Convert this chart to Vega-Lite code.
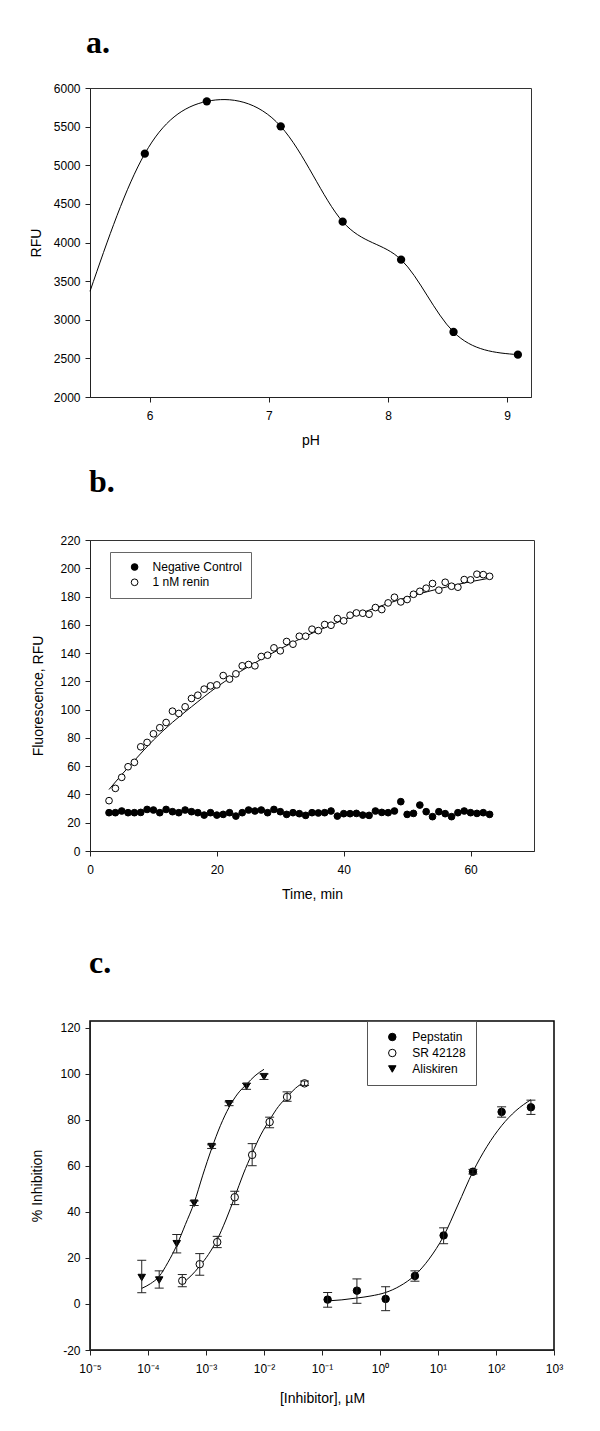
{
  "$schema": "https://vega.github.io/schema/vega-lite/v6.json",
  "background": "white",
  "padding": {"left": 28, "top": 26, "right": 10, "bottom": 10},
  "spacing": 17,
  "resolve": {"scale": {"fill": "independent", "shape": "independent", "stroke": "independent"}, "legend": {"fill": "independent", "shape": "independent", "stroke": "independent"}},
  "config": {
    "font": "Liberation Sans",
    "view": {"stroke": "#333", "strokeWidth": 1},
    "axis": {"grid": false, "domainColor": "#222", "tickColor": "#222", "labelColor": "#000", "titleColor": "#000", "labelFont": "Liberation Sans", "titleFont": "Liberation Sans", "labelFontSize": 12, "titleFontSize": 14, "titleFontWeight": "normal", "tickSize": 5, "labelFlush": false, "labelOverlap": false},
    "axisX": {"labelPadding": 8, "titlePadding": 12},
    "axisY": {"labelPadding": 5},
    "title": {"font": "Liberation Serif", "fontSize": 32, "fontWeight": "bold", "anchor": "start", "frame": "group", "baseline": "alphabetic", "color": "#000"},
    "legend": {"labelFont": "Liberation Sans", "labelFontSize": 12, "labelColor": "#000", "symbolStrokeColor": "#000", "symbolStrokeWidth": 1}
  },
  "datasets": {
    "phPoints": [
      {"pH": 5.96, "RFU": 5150}, {"pH": 6.48, "RFU": 5827}, {"pH": 7.10, "RFU": 5504}, {"pH": 7.62, "RFU": 4270},
      {"pH": 8.11, "RFU": 3778}, {"pH": 8.55, "RFU": 2842}, {"pH": 9.09, "RFU": 2548}
    ],
    "phCurve": [
      {"pH": 5.5, "RFU": 3368}, {"pH": 5.96, "RFU": 5150}, {"pH": 6.48, "RFU": 5827}, {"pH": 7.10, "RFU": 5504},
      {"pH": 7.62, "RFU": 4270}, {"pH": 8.11, "RFU": 3778}, {"pH": 8.55, "RFU": 2842}, {"pH": 9.09, "RFU": 2548}
    ],
    "kinCurve": [
      {"t": 3, "F": 43.5}, {"t": 5, "F": 54}, {"t": 7, "F": 64}, {"t": 10, "F": 78.5}, {"t": 13, "F": 91},
      {"t": 16, "F": 102}, {"t": 20, "F": 116}, {"t": 25, "F": 130.5}, {"t": 30, "F": 143}, {"t": 35, "F": 154},
      {"t": 40, "F": 163.5}, {"t": 45, "F": 172}, {"t": 50, "F": 179.5}, {"t": 55, "F": 185.5}, {"t": 60, "F": 190.5}, {"t": 63, "F": 193}
    ],
    "kinPoints": [
      {"series": "1 nM renin", "t": 3, "F": 35.6}, {"series": "1 nM renin", "t": 4, "F": 44.3}, {"series": "1 nM renin", "t": 5, "F": 52.1},
      {"series": "1 nM renin", "t": 6, "F": 59.6}, {"series": "1 nM renin", "t": 7, "F": 62.7}, {"series": "1 nM renin", "t": 8, "F": 73.7},
      {"series": "1 nM renin", "t": 9, "F": 76.8}, {"series": "1 nM renin", "t": 10, "F": 82.9}, {"series": "1 nM renin", "t": 11, "F": 87.2},
      {"series": "1 nM renin", "t": 12, "F": 90.9}, {"series": "1 nM renin", "t": 13, "F": 98.9}, {"series": "1 nM renin", "t": 14, "F": 97.3},
      {"series": "1 nM renin", "t": 15, "F": 102.0}, {"series": "1 nM renin", "t": 16, "F": 107.9}, {"series": "1 nM renin", "t": 17, "F": 110.2},
      {"series": "1 nM renin", "t": 18, "F": 114.5}, {"series": "1 nM renin", "t": 19, "F": 116.8}, {"series": "1 nM renin", "t": 20, "F": 117.5},
      {"series": "1 nM renin", "t": 21, "F": 124.1}, {"series": "1 nM renin", "t": 22, "F": 121.6}, {"series": "1 nM renin", "t": 23, "F": 125.3},
      {"series": "1 nM renin", "t": 24, "F": 131.0}, {"series": "1 nM renin", "t": 25, "F": 131.9}, {"series": "1 nM renin", "t": 26, "F": 131.0},
      {"series": "1 nM renin", "t": 27, "F": 137.6}, {"series": "1 nM renin", "t": 28, "F": 138.5}, {"series": "1 nM renin", "t": 29, "F": 143.7},
      {"series": "1 nM renin", "t": 30, "F": 141.6}, {"series": "1 nM renin", "t": 31, "F": 148.2}, {"series": "1 nM renin", "t": 32, "F": 146.3},
      {"series": "1 nM renin", "t": 33, "F": 151.9}, {"series": "1 nM renin", "t": 34, "F": 151.9}, {"series": "1 nM renin", "t": 35, "F": 156.9},
      {"series": "1 nM renin", "t": 36, "F": 155.9}, {"series": "1 nM renin", "t": 37, "F": 160.2}, {"series": "1 nM renin", "t": 38, "F": 159.7},
      {"series": "1 nM renin", "t": 39, "F": 164.4}, {"series": "1 nM renin", "t": 40, "F": 162.8}, {"series": "1 nM renin", "t": 41, "F": 166.8},
      {"series": "1 nM renin", "t": 42, "F": 168.4}, {"series": "1 nM renin", "t": 43, "F": 168.2}, {"series": "1 nM renin", "t": 44, "F": 167.5},
      {"series": "1 nM renin", "t": 45, "F": 172.2}, {"series": "1 nM renin", "t": 46, "F": 170.8}, {"series": "1 nM renin", "t": 47, "F": 175.5},
      {"series": "1 nM renin", "t": 48, "F": 179.5}, {"series": "1 nM renin", "t": 49, "F": 176.2}, {"series": "1 nM renin", "t": 50, "F": 177.9},
      {"series": "1 nM renin", "t": 51, "F": 181.6}, {"series": "1 nM renin", "t": 52, "F": 183.7}, {"series": "1 nM renin", "t": 53, "F": 185.9},
      {"series": "1 nM renin", "t": 54, "F": 189.2}, {"series": "1 nM renin", "t": 55, "F": 184.5}, {"series": "1 nM renin", "t": 56, "F": 190.1},
      {"series": "1 nM renin", "t": 57, "F": 187.3}, {"series": "1 nM renin", "t": 58, "F": 186.6}, {"series": "1 nM renin", "t": 59, "F": 192.0},
      {"series": "1 nM renin", "t": 60, "F": 191.8}, {"series": "1 nM renin", "t": 61, "F": 195.8}, {"series": "1 nM renin", "t": 62, "F": 195.5},
      {"series": "1 nM renin", "t": 63, "F": 194.3},
      {"series": "Negative Control", "t": 3, "F": 27.1}, {"series": "Negative Control", "t": 4, "F": 27.1}, {"series": "Negative Control", "t": 5, "F": 28.3},
      {"series": "Negative Control", "t": 6, "F": 27.1}, {"series": "Negative Control", "t": 7, "F": 27.1}, {"series": "Negative Control", "t": 8, "F": 27.3},
      {"series": "Negative Control", "t": 9, "F": 29.4}, {"series": "Negative Control", "t": 10, "F": 29.0}, {"series": "Negative Control", "t": 11, "F": 27.1},
      {"series": "Negative Control", "t": 12, "F": 29.4}, {"series": "Negative Control", "t": 13, "F": 27.8}, {"series": "Negative Control", "t": 14, "F": 27.1},
      {"series": "Negative Control", "t": 15, "F": 29.0}, {"series": "Negative Control", "t": 16, "F": 27.8}, {"series": "Negative Control", "t": 17, "F": 27.1},
      {"series": "Negative Control", "t": 18, "F": 25.4}, {"series": "Negative Control", "t": 19, "F": 27.1}, {"series": "Negative Control", "t": 20, "F": 25.4},
      {"series": "Negative Control", "t": 21, "F": 25.9}, {"series": "Negative Control", "t": 22, "F": 27.1}, {"series": "Negative Control", "t": 23, "F": 24.7},
      {"series": "Negative Control", "t": 24, "F": 27.1}, {"series": "Negative Control", "t": 25, "F": 29.0}, {"series": "Negative Control", "t": 26, "F": 28.3},
      {"series": "Negative Control", "t": 27, "F": 29.0}, {"series": "Negative Control", "t": 28, "F": 27.1}, {"series": "Negative Control", "t": 29, "F": 29.4},
      {"series": "Negative Control", "t": 30, "F": 27.8}, {"series": "Negative Control", "t": 31, "F": 25.9}, {"series": "Negative Control", "t": 32, "F": 27.1},
      {"series": "Negative Control", "t": 33, "F": 26.4}, {"series": "Negative Control", "t": 34, "F": 25.2}, {"series": "Negative Control", "t": 35, "F": 27.1},
      {"series": "Negative Control", "t": 36, "F": 26.9}, {"series": "Negative Control", "t": 37, "F": 27.1}, {"series": "Negative Control", "t": 38, "F": 28.3},
      {"series": "Negative Control", "t": 39, "F": 24.7}, {"series": "Negative Control", "t": 40, "F": 26.4}, {"series": "Negative Control", "t": 41, "F": 26.4},
      {"series": "Negative Control", "t": 42, "F": 26.6}, {"series": "Negative Control", "t": 43, "F": 25.4}, {"series": "Negative Control", "t": 44, "F": 25.2},
      {"series": "Negative Control", "t": 45, "F": 28.3}, {"series": "Negative Control", "t": 46, "F": 27.3}, {"series": "Negative Control", "t": 47, "F": 27.1},
      {"series": "Negative Control", "t": 48, "F": 28.3}, {"series": "Negative Control", "t": 49, "F": 34.9}, {"series": "Negative Control", "t": 50, "F": 25.9},
      {"series": "Negative Control", "t": 51, "F": 26.6}, {"series": "Negative Control", "t": 52, "F": 32.5}, {"series": "Negative Control", "t": 53, "F": 27.8},
      {"series": "Negative Control", "t": 54, "F": 24.3}, {"series": "Negative Control", "t": 55, "F": 27.8}, {"series": "Negative Control", "t": 56, "F": 26.4},
      {"series": "Negative Control", "t": 57, "F": 24.3}, {"series": "Negative Control", "t": 58, "F": 27.1}, {"series": "Negative Control", "t": 59, "F": 28.3},
      {"series": "Negative Control", "t": 60, "F": 27.1}, {"series": "Negative Control", "t": 61, "F": 26.6}, {"series": "Negative Control", "t": 62, "F": 27.1},
      {"series": "Negative Control", "t": 63, "F": 25.9}
    ],
    "inhib": [
      {"drug": "Aliskiren", "conc": 0.000078, "pct": 11.5, "lo": 4.9, "hi": 19.0},
      {"drug": "Aliskiren", "conc": 0.000156, "pct": 10.4, "lo": 6.9, "hi": 14.4},
      {"drug": "Aliskiren", "conc": 0.000313, "pct": 26.2, "lo": 22.2, "hi": 30.2},
      {"drug": "Aliskiren", "conc": 0.000625, "pct": 43.8, "lo": 42.8, "hi": 44.8},
      {"drug": "Aliskiren", "conc": 0.00125, "pct": 68.4, "lo": 67.6, "hi": 69.2},
      {"drug": "Aliskiren", "conc": 0.0025, "pct": 87.0, "lo": 86.2, "hi": 87.8},
      {"drug": "Aliskiren", "conc": 0.005, "pct": 94.6, "lo": 93.3, "hi": 95.9},
      {"drug": "Aliskiren", "conc": 0.01, "pct": 98.8, "lo": 97.6, "hi": 100.0},
      {"drug": "SR 42128", "conc": 0.00039, "pct": 10.1, "lo": 7.5, "hi": 12.8},
      {"drug": "SR 42128", "conc": 0.00078, "pct": 17.3, "lo": 12.5, "hi": 21.9},
      {"drug": "SR 42128", "conc": 0.00156, "pct": 26.9, "lo": 24.5, "hi": 29.4},
      {"drug": "SR 42128", "conc": 0.00313, "pct": 46.4, "lo": 43.2, "hi": 49.0},
      {"drug": "SR 42128", "conc": 0.00625, "pct": 64.8, "lo": 60.1, "hi": 69.7},
      {"drug": "SR 42128", "conc": 0.0125, "pct": 79.1, "lo": 76.6, "hi": 81.2},
      {"drug": "SR 42128", "conc": 0.025, "pct": 90.0, "lo": 88.1, "hi": 92.2},
      {"drug": "SR 42128", "conc": 0.05, "pct": 95.9, "lo": 95.0, "hi": 96.9},
      {"drug": "Pepstatin", "conc": 0.125, "pct": 1.9, "lo": -1.4, "hi": 5.0},
      {"drug": "Pepstatin", "conc": 0.4, "pct": 5.8, "lo": 0.3, "hi": 10.9},
      {"drug": "Pepstatin", "conc": 1.25, "pct": 2.2, "lo": -2.9, "hi": 7.5},
      {"drug": "Pepstatin", "conc": 4, "pct": 12.2, "lo": 9.9, "hi": 14.4},
      {"drug": "Pepstatin", "conc": 12.5, "pct": 29.8, "lo": 26.2, "hi": 33.1},
      {"drug": "Pepstatin", "conc": 40, "pct": 57.5, "lo": 56.5, "hi": 58.5},
      {"drug": "Pepstatin", "conc": 125, "pct": 83.5, "lo": 81.2, "hi": 85.7},
      {"drug": "Pepstatin", "conc": 400, "pct": 85.5, "lo": 82.4, "hi": 88.6}
    ],
    "inhibCurve": [
      {"drug": "Aliskiren", "conc": 0.000078, "pct": 6.8}, {"drug": "Aliskiren", "conc": 0.00011, "pct": 8.8},
      {"drug": "Aliskiren", "conc": 0.000156, "pct": 12.0}, {"drug": "Aliskiren", "conc": 0.00022, "pct": 18.0},
      {"drug": "Aliskiren", "conc": 0.000313, "pct": 25.5}, {"drug": "Aliskiren", "conc": 0.00044, "pct": 34.5},
      {"drug": "Aliskiren", "conc": 0.000625, "pct": 44.0}, {"drug": "Aliskiren", "conc": 0.00088, "pct": 56.0},
      {"drug": "Aliskiren", "conc": 0.00125, "pct": 67.5}, {"drug": "Aliskiren", "conc": 0.00177, "pct": 77.5},
      {"drug": "Aliskiren", "conc": 0.0025, "pct": 85.5}, {"drug": "Aliskiren", "conc": 0.0035, "pct": 91.3},
      {"drug": "Aliskiren", "conc": 0.005, "pct": 95.5}, {"drug": "Aliskiren", "conc": 0.007, "pct": 99.2},
      {"drug": "Aliskiren", "conc": 0.01, "pct": 102.0},
      {"drug": "SR 42128", "conc": 0.00039, "pct": 9.0}, {"drug": "SR 42128", "conc": 0.00055, "pct": 12.2},
      {"drug": "SR 42128", "conc": 0.00078, "pct": 16.5}, {"drug": "SR 42128", "conc": 0.0011, "pct": 21.5},
      {"drug": "SR 42128", "conc": 0.00156, "pct": 28.0}, {"drug": "SR 42128", "conc": 0.0022, "pct": 36.5},
      {"drug": "SR 42128", "conc": 0.00313, "pct": 46.5}, {"drug": "SR 42128", "conc": 0.0044, "pct": 56.5},
      {"drug": "SR 42128", "conc": 0.00625, "pct": 65.5}, {"drug": "SR 42128", "conc": 0.0088, "pct": 73.5},
      {"drug": "SR 42128", "conc": 0.0125, "pct": 80.0}, {"drug": "SR 42128", "conc": 0.0177, "pct": 85.8},
      {"drug": "SR 42128", "conc": 0.025, "pct": 90.0}, {"drug": "SR 42128", "conc": 0.035, "pct": 93.8},
      {"drug": "SR 42128", "conc": 0.05, "pct": 96.5},
      {"drug": "Pepstatin", "conc": 0.12, "pct": 1.3}, {"drug": "Pepstatin", "conc": 0.22, "pct": 1.8},
      {"drug": "Pepstatin", "conc": 0.4, "pct": 2.6}, {"drug": "Pepstatin", "conc": 0.7, "pct": 3.5},
      {"drug": "Pepstatin", "conc": 1.25, "pct": 5.0}, {"drug": "Pepstatin", "conc": 2.2, "pct": 7.8},
      {"drug": "Pepstatin", "conc": 4, "pct": 12.5}, {"drug": "Pepstatin", "conc": 7, "pct": 19.5},
      {"drug": "Pepstatin", "conc": 12.5, "pct": 29.5}, {"drug": "Pepstatin", "conc": 22, "pct": 43.0},
      {"drug": "Pepstatin", "conc": 40, "pct": 57.5}, {"drug": "Pepstatin", "conc": 70, "pct": 68.5},
      {"drug": "Pepstatin", "conc": 125, "pct": 77.5}, {"drug": "Pepstatin", "conc": 220, "pct": 84.0},
      {"drug": "Pepstatin", "conc": 400, "pct": 88.8}
    ]
  },
  "vconcat": [
    {
      "title": {"text": "a.", "offset": 22, "dx": -4},
      "width": 441,
      "height": 309,
      "layer": [
        {
          "data": {"name": "phCurve"},
          "mark": {"type": "line", "interpolate": "natural", "color": "#000", "strokeWidth": 1},
          "encoding": {
            "x": {"field": "pH", "type": "quantitative", "title": "pH", "scale": {"domain": [5.5, 9.2], "nice": false, "zero": false}, "axis": {"values": [6, 7, 8, 9], "tickCount": 50, "format": "d", "labelOverlap": false}},
            "y": {"field": "RFU", "type": "quantitative", "title": "RFU", "scale": {"domain": [2000, 6000], "nice": false, "zero": false}, "axis": {"values": [2000, 2500, 3000, 3500, 4000, 4500, 5000, 5500, 6000], "tickCount": 50, "format": "d", "labelOverlap": false, "titlePadding": 10}}
          }
        },
        {
          "data": {"name": "phPoints"},
          "mark": {"type": "circle", "size": 69, "color": "#000", "opacity": 1},
          "encoding": {
            "x": {"field": "pH", "type": "quantitative", "title": "pH"},
            "y": {"field": "RFU", "type": "quantitative", "title": "RFU"}
          }
        }
      ]
    },
    {
      "title": {"text": "b.", "offset": 35, "dx": -1},
      "width": 444,
      "height": 311,
      "layer": [
        {
          "data": {"name": "kinCurve"},
          "mark": {"type": "line", "interpolate": "monotone", "color": "#000", "strokeWidth": 1},
          "encoding": {
            "x": {"field": "t", "type": "quantitative", "title": "Time, min", "scale": {"domain": [0, 70], "nice": false}, "axis": {"values": [0, 20, 40, 60], "tickCount": 50, "format": "d", "labelOverlap": false}},
            "y": {"field": "F", "type": "quantitative", "title": "Fluorescence, RFU", "scale": {"domain": [0, 220], "nice": false}, "axis": {"values": [0, 20, 40, 60, 80, 100, 120, 140, 160, 180, 200, 220], "tickCount": 50, "format": "d", "labelOverlap": false, "titlePadding": 14}}
          }
        },
        {
          "data": {"name": "kinPoints"},
          "mark": {"type": "circle", "size": 45, "stroke": "#000", "strokeWidth": 1, "opacity": 1},
          "encoding": {
            "x": {"field": "t", "type": "quantitative", "title": "Time, min"},
            "y": {"field": "F", "type": "quantitative", "title": "Fluorescence, RFU"},
            "fill": {
              "field": "series", "type": "nominal",
              "scale": {"domain": ["Negative Control", "1 nM renin"], "range": ["#000000", "#ffffff"]},
              "legend": {"title": null, "orient": "none", "legendX": 20, "legendY": 12, "strokeColor": "#666", "padding": 9, "symbolOffset": 9.6, "labelOffset": 12, "rowPadding": 3.3, "symbolSize": 45, "symbolStrokeColor": "#000", "symbolStrokeWidth": 1, "labelFontSize": 12}
            }
          }
        }
      ]
    },
    {
      "title": {"text": [" ", "c."], "offset": 41, "dx": -1, "lineHeight": 26},
      "width": 464,
      "height": 329,
      "view": {"stroke": "#000", "strokeWidth": 1.5},
      "layer": [
        {
          "data": {"name": "inhibCurve"},
          "mark": {"type": "line", "interpolate": "monotone", "color": "#000", "strokeWidth": 1},
          "encoding": {
            "x": {"field": "conc", "type": "quantitative", "title": "[Inhibitor], µM", "scale": {"type": "log", "domain": [0.00001, 1000], "nice": false}, "axis": {"values": [0.00001, 0.0001, 0.001, 0.01, 0.1, 1, 10, 100, 1000], "tickCount": 50, "labelOverlap": false, "labelExpr": "['10⁻⁵','10⁻⁴','10⁻³','10⁻²','10⁻¹','10⁰','10¹','10²','10³'][round(log(datum.value)/LN10)+5]", "titlePadding": 17}},
            "y": {"field": "pct", "type": "quantitative", "title": "% Inhibition", "scale": {"domain": [-20, 123], "nice": false, "zero": false}, "axis": {"values": [-20, 0, 20, 40, 60, 80, 100, 120], "tickCount": 50, "labelOverlap": false, "labelExpr": "'' + datum.value", "titlePadding": 15}},
            "detail": {"field": "drug", "type": "nominal"}
          }
        },
        {
          "data": {"name": "inhib"},
          "mark": {"type": "point", "filled": true, "size": 56, "strokeWidth": 1, "opacity": 1},
          "encoding": {
            "x": {"field": "conc", "type": "quantitative", "title": "[Inhibitor], µM"},
            "y": {"field": "pct", "type": "quantitative", "title": "% Inhibition"},
            "shape": {
              "field": "drug", "type": "nominal",
              "scale": {"domain": ["Pepstatin", "SR 42128", "Aliskiren"], "range": ["circle", "circle", "triangle-down"]},
              "legend": {"title": null, "orient": "none", "legendX": 277, "legendY": 0, "strokeColor": "#555", "padding": 10, "symbolOffset": 9.3, "labelOffset": 14, "rowPadding": 4, "symbolSize": 56, "symbolStrokeWidth": 1, "labelFontSize": 12}
            },
            "fill": {
              "field": "drug", "type": "nominal",
              "scale": {"domain": ["Pepstatin", "SR 42128", "Aliskiren"], "range": ["#000000", "#ffffff", "#000000"]},
              "legend": {"title": null, "orient": "none", "legendX": 277, "legendY": 0, "strokeColor": "#555", "padding": 10, "symbolOffset": 9.3, "labelOffset": 14, "rowPadding": 4, "symbolSize": 56, "symbolStrokeWidth": 1, "labelFontSize": 12}
            },
            "stroke": {
              "field": "drug", "type": "nominal",
              "scale": {"domain": ["Pepstatin", "SR 42128", "Aliskiren"], "range": ["#000000", "#000000", "#000000"]},
              "legend": {"title": null, "orient": "none", "legendX": 277, "legendY": 0, "strokeColor": "#555", "padding": 10, "symbolOffset": 9.3, "labelOffset": 14, "rowPadding": 4, "symbolSize": 56, "symbolStrokeWidth": 1, "labelFontSize": 12}
            }
          }
        },
        {
          "data": {"name": "inhib"},
          "mark": {"type": "rule", "color": "#222", "strokeWidth": 1},
          "encoding": {
            "x": {"field": "conc", "type": "quantitative", "title": "[Inhibitor], µM"},
            "y": {"field": "lo", "type": "quantitative", "title": "% Inhibition"},
            "y2": {"field": "hi"}
          }
        },
        {
          "data": {"name": "inhib"},
          "mark": {"type": "tick", "orient": "horizontal", "size": 9, "thickness": 1, "color": "#222", "opacity": 1},
          "encoding": {
            "x": {"field": "conc", "type": "quantitative", "title": "[Inhibitor], µM"},
            "y": {"field": "lo", "type": "quantitative", "title": "% Inhibition"}
          }
        },
        {
          "data": {"name": "inhib"},
          "mark": {"type": "tick", "orient": "horizontal", "size": 9, "thickness": 1, "color": "#222", "opacity": 1},
          "encoding": {
            "x": {"field": "conc", "type": "quantitative", "title": "[Inhibitor], µM"},
            "y": {"field": "hi", "type": "quantitative", "title": "% Inhibition"}
          }
        }
      ]
    }
  ]
}
